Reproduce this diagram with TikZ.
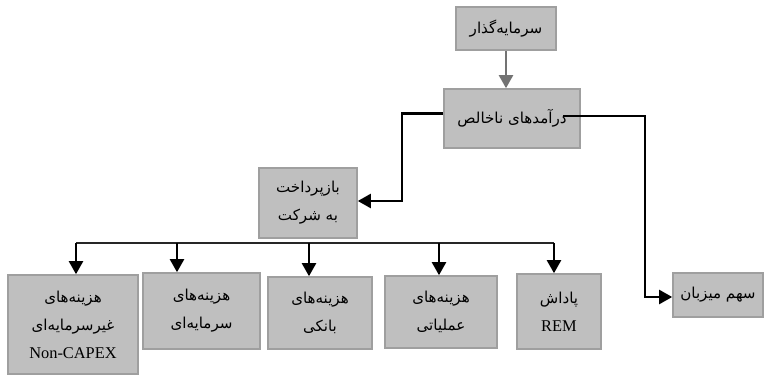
\documentclass[tikz,border=0pt]{standalone}
\usepackage{fontspec}
\setmainfont{Liberation Serif}
\newfontfamily\farsifont[Script=Arabic,Scale=0.92]{DejaVu Sans}
\TeXXeTstate=1
\newcommand{\fatext}[1]{{\farsifont\beginR #1\endR}}
\usetikzlibrary{arrows.meta}

\begin{document}
\begin{tikzpicture}[
  x=0.5pt, y=-0.5pt,
  box/.style={rectangle, draw=gray!75, line width=0.8pt, fill=black!25,
              inner sep=0pt, align=center, font=\fontsize{8.2}{14}\selectfont},
  arrow/.style={-{Triangle[width=7pt,length=6.5pt]}, line width=1.1pt, black},
  grayarrow/.style={-{Triangle[width=7pt,length=6.5pt]}, line width=1.1pt, black!55},
  bus/.style={line width=0.7pt, black!85}
]
\useasboundingbox (0,0) rectangle (767,375);
% top of the chain
\node (inv)  [box, minimum width=50pt, minimum height=21.5pt] at (506,28.5) {\fatext{سرمایه‌گذار}};
\node (rev)  [box, minimum width=68pt, minimum height=29.5pt] at (512,118.5) {\fatext{درآمدهای ناخالص}};
\node (repay) [box, minimum width=49pt, minimum height=35pt] at (308,203) {\fatext{بازپرداخت}\\\fatext{به شرکت}};
\node (host) [box, minimum width=45pt, minimum height=22pt] at (718,295) {\fatext{سهم میزبان}};
% cost boxes
\node (noncap) [box, minimum width=65pt, minimum height=49.5pt] at (73,324.5) {\fatext{هزینه‌های}\\\fatext{غیرسرمایه‌ای}\\Non-CAPEX};
\node (capex)  [box, minimum width=58.5pt, minimum height=38pt] at (201.5,311) {\fatext{هزینه‌های}\\\fatext{سرمایه‌ای}};
\node (bank)   [box, minimum width=52pt, minimum height=36pt] at (320,313) {\fatext{هزینه‌های}\\\fatext{بانکی}};
\node (opex)   [box, minimum width=56pt, minimum height=36pt] at (441,312) {\fatext{هزینه‌های}\\\fatext{عملیاتی}};
\node (rem)    [box, minimum width=42pt, minimum height=37.5pt] at (559,311.5) {\fatext{پاداش}\\REM};

\coordinate (t1) at (76,243);
\coordinate (t2) at (177,243);
\coordinate (t3) at (309,243);
\coordinate (t4) at (439,243);
\coordinate (t5) at (554,243);
\coordinate (rs) at (563,116);

\draw [grayarrow] (inv) -- (inv |- rev.north);
\draw [arrow] ([yshift=2.5pt]rev.west) -| (402,201) -- (repay.east |- 402,201);
\draw [arrow] (rs) -| (645,297) -- (host.west |- 645,297);
\draw [bus] (t1) -- (t5);
\draw [arrow] (t1) -- (t1 |- noncap.north);
\draw [arrow] (t2) -- (t2 |- capex.north);
\draw [arrow] (t3) -- (t3 |- bank.north);
\draw [arrow] (t4) -- (t4 |- opex.north);
\draw [arrow] (t5) -- (t5 |- rem.north);
\end{tikzpicture}
\end{document}
